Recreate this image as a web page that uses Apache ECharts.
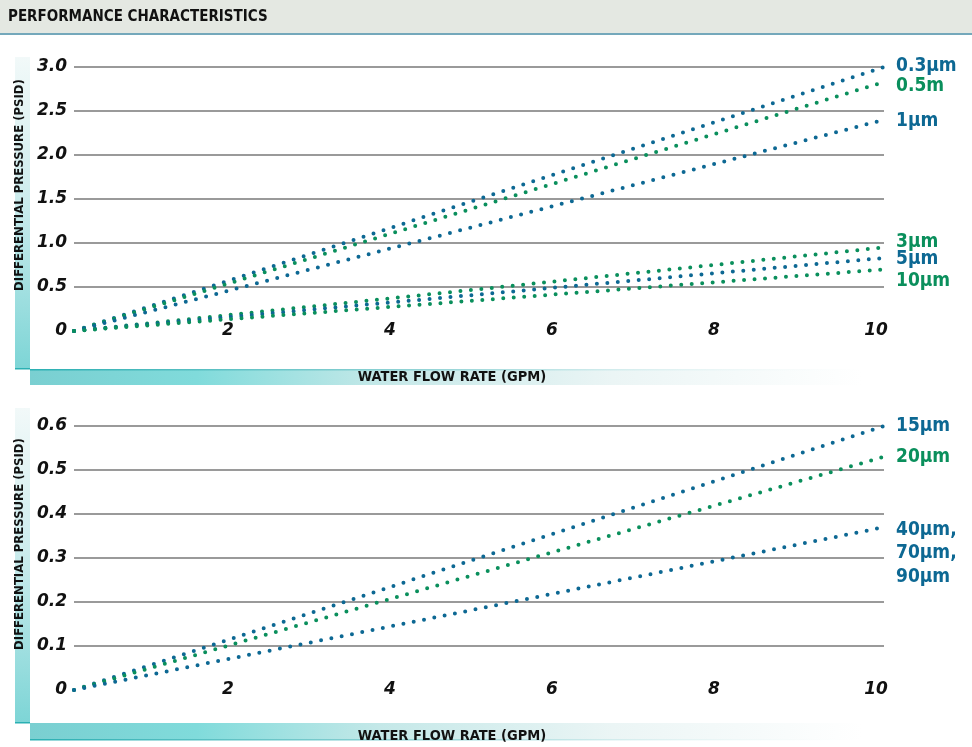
<!DOCTYPE html>
<html>
<head>
<meta charset="utf-8">
<script src="https://cdn.jsdelivr.net/npm/echarts@6/dist/echarts.min.js"></script>
<style>
html, body { margin: 0; padding: 0; background: #ffffff; }
#chart { width: 972px; height: 747px; }
</style>
</head>
<body>
<div id="chart"></div>
<script>
// Flow rates (GPM) at which each curve is given
const flowPoints = [0, 10];

// Upper chart: differential pressure (PSID) at each flow point
const upperNames = ['0.3µm', '0.5m', '1µm', '3µm', '5µm', '10µm'];
const p03 = [0, 3.0];
const p05 = [0, 2.83];
const p1 = [0, 2.4];
const p3 = [0, 0.95];
const p5 = [0, 0.83];
const p10 = [0, 0.70];

// Lower chart
const lowerNames = ['15µm', '20µm', '40µm,\n70µm,\n90µm'];
const p15 = [0, 0.6];
const p20 = [0, 0.53];
const p40 = [0, 0.37];

// Axis ranges and tick steps
const xRange = [0, 10], xStep = 2;
const upperYRange = [0, 3], upperYStep = 0.5;
const lowerYRange = [0, 0.6], lowerYStep = 0.1;

const BLUE = '#0d6893';
const GREEN = '#0a8f5c';
const LABEL_FONT = '"DejaVu Sans Condensed", "DejaVu Sans", sans-serif';
const TICK_FONT = '"DejaVu Sans", sans-serif';
const TITLE_FONT = '"DejaVu Sans Condensed", "DejaVu Sans", sans-serif';

function pairs(values) {
  return flowPoints.map((x, i) => [x, values[i]]);
}

function curve(name, values, color, gridIdx, dy, extra) {
  return {
    name: name,
    type: 'line',
    xAxisIndex: gridIdx,
    yAxisIndex: gridIdx,
    data: pairs(values),
    showSymbol: false,
    symbol: 'none',
    silent: true,
    lineStyle: { color: color, width: 4, type: [0, 10.5], cap: 'round' },
    endLabel: Object.assign({
      show: true,
      formatter: name,
      color: color,
      fontFamily: LABEL_FONT,
      fontWeight: 'bold',
      fontSize: 19,
      distance: 12,
      offset: [0, dy],
      align: 'left',
      verticalAlign: 'middle'
    }, extra || {})
  };
}

function xAxisFor(gridIdx) {
  return {
    type: 'value',
    gridIndex: gridIdx,
    min: xRange[0], max: xRange[1], interval: xStep,
    axisLine: { show: false },
    axisTick: { show: false },
    splitLine: { show: false },
    axisLabel: {
      formatter: v => (v === 0 ? '' : String(v)),
      margin: 0,
      verticalAlign: 'middle',
      padding: [0, 16, 0, 0],
      color: '#111',
      fontFamily: TICK_FONT,
      fontWeight: 'bold',
      fontStyle: 'italic',
      fontSize: 17
    },
    name: 'WATER FLOW RATE (GPM)',
    nameLocation: 'middle',
    nameGap: 39,
    nameTextStyle: {
      color: '#111',
      fontFamily: TITLE_FONT,
      fontWeight: 'bold',
      fontSize: 14.5,
      padding: [0, 54, 0, 0]
    }
  };
}

function yAxisFor(gridIdx, range, step) {
  return {
    type: 'value',
    gridIndex: gridIdx,
    min: range[0], max: range[1], interval: step,
    axisLine: { show: false },
    axisTick: { show: false },
    splitLine: { show: true, showMinLine: false, lineStyle: { color: '#9a9a9a', width: 2 } },
    axisLabel: {
      formatter: v => (v === 0 ? '0' : v.toFixed(1)),
      margin: 7,
      color: '#111',
      fontFamily: TICK_FONT,
      fontWeight: 'bold',
      fontStyle: 'italic',
      fontSize: 17
    },
    name: 'DIFFERENTIAL PRESSURE (PSID)',
    nameLocation: 'middle',
    nameRotate: 90,
    nameGap: 44,
    nameTextStyle: {
      color: '#111',
      fontFamily: TITLE_FONT,
      fontWeight: 'bold',
      fontSize: 13,
      padding: [0, 0, 0, 28]
    }
  };
}

// Decorative axis-title bands
function hBandGradient() {
  return new echarts.graphic.LinearGradient(0, 0, 1, 0, [
    { offset: 0, color: '#7acfd1' },
    { offset: 0.2, color: '#80dbdb' },
    { offset: 0.42, color: '#c4e8e8' },
    { offset: 0.7, color: '#ebf5f5' },
    { offset: 1, color: '#ffffff' }
  ]);
}
function vBandGradient() {
  return new echarts.graphic.LinearGradient(0, 0, 0, 1, [
    { offset: 0, color: '#f2f9f9' },
    { offset: 0.45, color: '#cdeced' },
    { offset: 1, color: '#7dd5d6' }
  ]);
}
function lineGradient() {
  return new echarts.graphic.LinearGradient(0, 0, 1, 0, [
    { offset: 0, color: '#2bb0b3' },
    { offset: 0.5, color: '#9ad6d8' },
    { offset: 1, color: 'rgba(255,255,255,0)' }
  ]);
}

const chart = echarts.init(document.getElementById('chart'), null, { renderer: 'canvas' });

chart.setOption({
  animation: false,
  backgroundColor: '#ffffff',
  graphic: [
    { type: 'rect', shape: { x: 0, y: 0, width: 972, height: 34 }, style: { fill: '#e4e8e2' }, z: -10 },
    { type: 'rect', shape: { x: 0, y: 33, width: 972, height: 2 }, style: { fill: '#74a8bb' }, z: -10 },
    { type: 'text', x: 8, y: 17, style: { text: 'PERFORMANCE CHARACTERISTICS', fill: '#111', font: 'bold 15px ' + TITLE_FONT, textVerticalAlign: 'middle' } },

    { type: 'rect', shape: { x: 15, y: 57, width: 15, height: 312 }, style: { fill: vBandGradient() }, z: -10 },
    { type: 'rect', shape: { x: 15, y: 368, width: 15, height: 1.5 }, style: { fill: '#2bb0b3' }, z: -9 },
    { type: 'rect', shape: { x: 30, y: 369, width: 832, height: 16 }, style: { fill: hBandGradient() }, z: -10 },
    { type: 'rect', shape: { x: 30, y: 369, width: 840, height: 1.5 }, style: { fill: lineGradient() }, z: -9 },

    { type: 'rect', shape: { x: 15, y: 408, width: 15, height: 315 }, style: { fill: vBandGradient() }, z: -10 },
    { type: 'rect', shape: { x: 15, y: 722, width: 15, height: 1.5 }, style: { fill: '#2bb0b3' }, z: -9 },
    { type: 'rect', shape: { x: 30, y: 723, width: 832, height: 17 }, style: { fill: hBandGradient() }, z: -10 },
    { type: 'rect', shape: { x: 30, y: 739, width: 840, height: 1.5 }, style: { fill: lineGradient() }, z: -9 }
  ],
  grid: [
    { left: 74, right: 88, top: 67, bottom: 416 },
    { left: 74, right: 88, top: 426, bottom: 57 }
  ],
  xAxis: [xAxisFor(0), xAxisFor(1)],
  yAxis: [
    yAxisFor(0, upperYRange, upperYStep),
    yAxisFor(1, lowerYRange, lowerYStep)
  ],
  series: [
    curve(upperNames[0], p03, BLUE, 0, -1),
    curve(upperNames[1], p05, GREEN, 0, 4),
    curve(upperNames[2], p1, BLUE, 0, 1),
    curve(upperNames[3], p3, GREEN, 0, -5),
    curve(upperNames[4], p5, BLUE, 0, 1),
    curve(upperNames[5], p10, GREEN, 0, 12),
    curve(lowerNames[0], p15, BLUE, 1, 0),
    curve(lowerNames[1], p20, GREEN, 1, 0),
    curve(lowerNames[2], p40, BLUE, 1, 26, { lineHeight: 23.5 })
  ]
});
</script>
</body>
</html>
